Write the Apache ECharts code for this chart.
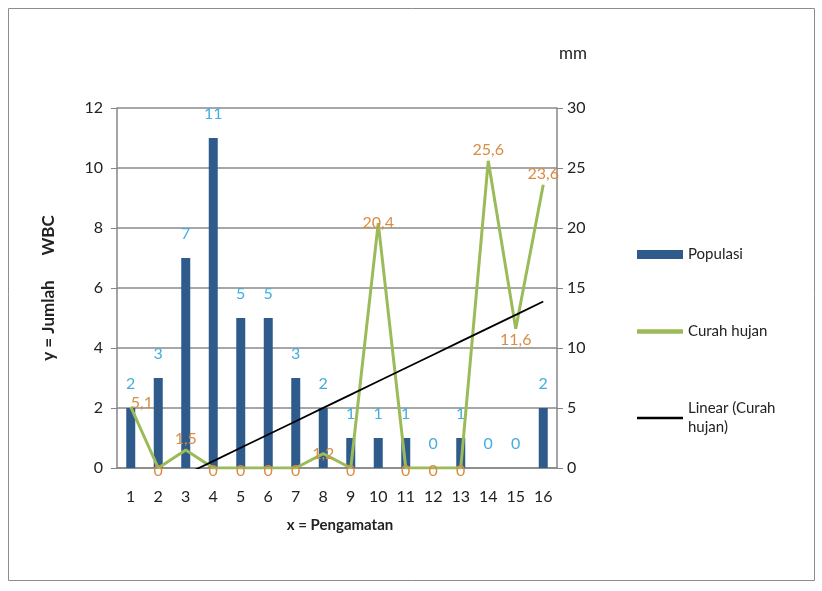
<!DOCTYPE html>
<html><head><meta charset="utf-8">
<script src="https://cdn.jsdelivr.net/npm/echarts@6/dist/echarts.min.js"></script>
<style>html,body{margin:0;padding:0;background:#fff}#c{width:822px;height:591px}</style>
</head><body><div id="c"></div>
<script>
const categories = ['1','2','3','4','5','6','7','8','9','10','11','12','13','14','15','16'];
const populasi = [2,3,7,11,5,5,3,2,1,1,1,0,1,0,0,2];
const curahHujan = [5.1,0,1.5,0,0,0,0,1.2,0,20.4,0,0,0,25.6,11.6,23.6];
const leftTicks = [0,12,2];
const rightTicks = [0,30,5];

// Excel-style linear trendline (least squares over x = 1..n)
const n = curahHujan.length;
const xs = curahHujan.map((_, i) => i + 1);
const mx = xs.reduce((a, b) => a + b, 0) / n;
const my = curahHujan.reduce((a, b) => a + b, 0) / n;
let sxy = 0, sxx = 0;
xs.forEach((x, i) => { sxy += (x - mx) * (curahHujan[i] - my); sxx += (x - mx) * (x - mx); });
const slope = sxy / sxx, icpt = my - slope * mx;
const trend = xs.map(x => +(icpt + slope * x).toFixed(3));

const labelPos = {0:'right', 2:'top', 13:'top', 14:'bottom', 15:'top', 7:'inside', 9:'inside'};
const curahData = curahHujan.map((v, i) => ({
  value: v,
  label: { position: labelPos[i] || 'inside', distance: labelPos[i]==='right' ? 0 : 3,
           offset: v === 0 ? [0, 3] : (labelPos[i]==='right' ? [0, -4] : [0, 0]) }
}));

const font = 'Lato, "Open Sans", sans-serif';
const chart = echarts.init(document.getElementById('c'), null, {renderer: 'canvas'});
chart.setOption({
  animation: false,
  textStyle: { fontFamily: font },
  graphic: [{ type: 'rect', shape: { x: 8.5, y: 8.5, width: 806, height: 572 },
    style: { fill: 'none', stroke: '#8c8c8c', lineWidth: 1 }, silent: true }],
  grid: { left: 117, right: 265, top: 108, bottom: 123 },
  legend: {
    orient: 'vertical', left: 632, top: 240, itemGap: 58,
    itemWidth: 46, itemHeight: 9,
    textStyle: { fontSize: 15, color: '#222', fontFamily: font, lineHeight: 19 },
    formatter: name => name === 'Linear (Curah hujan)' ? 'Linear (Curah\nhujan)' : name,
    data: [
      { name: 'Populasi', icon: 'rect' },
      { name: 'Curah hujan', icon: 'path://M0,0H10V1H0Z' },
      { name: 'Linear (Curah hujan)', icon: 'path://M0,0H10V0.5H0Z' }
    ]
  },
  xAxis: {
    type: 'category', data: categories,
    name: 'x = Pengamatan', nameLocation: 'middle', nameGap: 50,
    nameTextStyle: { fontSize: 15, color: '#222', fontWeight: 'bold', fontFamily: font, padding: [0, 0, 0, 6] },
    axisLine: { lineStyle: { color: '#868686', width: 1.5 } },
    axisTick: { show: false },
    axisLabel: { fontSize: 16, color: '#222', margin: 21, interval: 0 }
  },
  yAxis: [{
    type: 'value', min: leftTicks[0], max: leftTicks[1], interval: leftTicks[2],
    name: 'y = Jumlah      WBC', nameLocation: 'middle', nameGap: 60, nameRotate: 90,
    nameTextStyle: { fontSize: 17, color: '#222', fontWeight: 'bold', fontFamily: font },
    axisLine: { show: true, lineStyle: { color: '#868686', width: 1.5 } },
    axisTick: { show: true, length: 6, lineStyle: { color: '#868686' } },
    axisLabel: { fontSize: 16, color: '#222', margin: 14 },
    splitLine: { lineStyle: { color: '#8a8a8a', width: 1.5 } }
  }, {
    type: 'value', min: rightTicks[0], max: rightTicks[1], interval: rightTicks[2],
    name: 'mm', nameLocation: 'end', nameGap: 46,
    nameTextStyle: { fontSize: 17, color: '#222', align: 'left', padding: [0, 0, 0, 2], fontFamily: font },
    axisLine: { show: true, lineStyle: { color: '#868686', width: 1.5 } },
    axisTick: { show: true, length: 6, lineStyle: { color: '#868686' } },
    axisLabel: { fontSize: 16, color: '#222', margin: 10 },
    splitLine: { show: false }
  }],
  series: [{
    name: 'Populasi', type: 'bar', data: populasi, barWidth: 9,
    itemStyle: { color: '#2E5B8C' },
    label: { show: true, position: 'top', distance: 16, fontSize: 16, color: '#45AEDD', fontFamily: font }
  }, {
    name: 'Curah hujan', type: 'line', yAxisIndex: 1, data: curahData,
    symbol: 'circle', symbolSize: 0, showSymbol: true,
    lineStyle: { color: '#9BBB59', width: 3 }, itemStyle: { color: '#9BBB59' },
    label: { show: true, fontSize: 16, color: '#D98C45', fontFamily: font,
      formatter: p => String(p.value).replace('.', ',') }
  }, {
    name: 'Linear (Curah hujan)', type: 'line', yAxisIndex: 1, data: trend,
    symbol: 'none', clip: true,
    lineStyle: { color: '#000', width: 1.8 }, itemStyle: { color: '#000' }
  }]
});
</script></body></html>
